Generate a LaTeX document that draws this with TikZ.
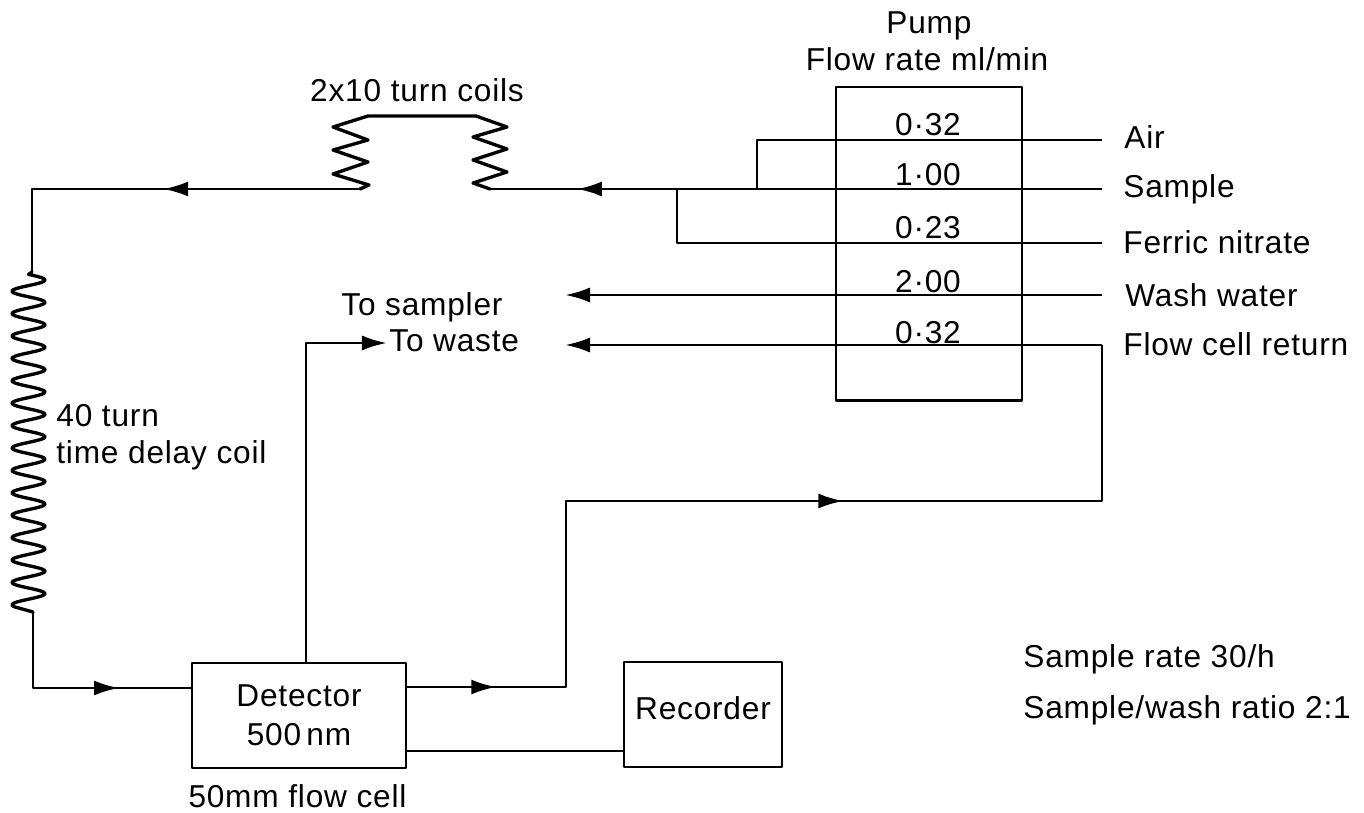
\documentclass[tikz,border=0pt]{standalone}
\usepackage{fontspec}
\setmainfont{Liberation Sans}[LetterSpace=2.5]
\usetikzlibrary{positioning, arrows.meta, decorations.markings}

\begin{document}
\begin{tikzpicture}[
        x=0.01cm, y=-0.01cm,
        line width=0.8pt,
        line join=round,
        boxnode/.style={rectangle, draw, line width=0.8pt, inner sep=0pt, font=\fontsize{9}{10.5}\selectfont},
        textlabel/.style={inner sep=0pt, anchor=base, font=\fontsize{9}{10.5}\selectfont},
        leftlabel/.style={textlabel, anchor=base west},
        flowtip/.style={postaction={decorate, decoration={markings, mark=at position #1 with {\arrow{Latex[length=2.5mm, width=1.5mm]}}}}},
        endtip/.style={-{Latex[length=2.5mm, width=1.5mm]}},
        coilline/.style={line width=0.95pt, line cap=round}
    ]
    \useasboundingbox (0,0) rectangle (1364,812);

    % pump and the other boxes
    \node[boxnode, minimum width=1.86cm, minimum height=3.13cm] (pump) at (929,243.5) {};
    \node[boxnode, minimum width=2.14cm, minimum height=1.05cm, align=center] (detector) at (299,715.5) {Detector\\[0.5pt]500\,nm};
    \node[boxnode, minimum width=1.58cm, minimum height=1.05cm, text depth=0.12cm] (recorder) at (703,714.5) {Recorder};

    % labels
    \node[textlabel] (pumplabel) at (929,33) {Pump};
    \node[textlabel] (ratelabel) at (927,70) {Flow rate ml/min};
    \node[textlabel] (coilslabel) at (417,101) {2x10 turn coils};
    \node[leftlabel] (delaylabel) at (55,426) {40 turn};
    \node[leftlabel] (delaylabelb) at (55,463) {time delay coil};
    \node[textlabel] (celllabel) at (297.5,807) {50mm flow cell};
    \node[leftlabel] (air) at (1123,148) {Air};
    \node[leftlabel] (sample) at (1122,197) {Sample};
    \node[leftlabel] (ferric) at (1122,253) {Ferric nitrate};
    \node[leftlabel] (wash) at (1124,306) {Wash water};
    \node[leftlabel] (return) at (1122,355) {Flow cell return};
    \node[leftlabel] (sampler) at (340,315) {To sampler};
    \node[leftlabel] (waste) at (388,351) {To waste};
    \node[leftlabel] (rate) at (1022,667) {Sample rate 30/h};
    \node[leftlabel] (ratio) at (1022,718) {Sample/wash ratio 2:1};

    % pump rates, one on each tube
    \foreach \name/\y/\rate in {a/135/0·32, b/185/1·00, c/238/0·23, d/292/2·00, e/343/0·32} {
        \node[textlabel] (rate\name) at (928,\y) {\rate};
    }

    % tube ends and corners
    \coordinate (airend) at (1102,140);
    \coordinate (airdrop) at (757,140);
    \coordinate (airjoin) at (757,189);
    \coordinate (sampleend) at (1102,189);
    \coordinate (coilin) at (490,189);
    \coordinate (coilout) at (360,189);
    \coordinate (ferricend) at (1102,243);
    \coordinate (ferricdrop) at (677,243);
    \coordinate (ferricjoin) at (677,189);
    \coordinate (washend) at (1102,295);
    \coordinate (washout) at (565,295);
    \coordinate (returnout) at (565,345);
    \coordinate (returndrop) at (1102,345);
    \coordinate (returnlow) at (1102,501);
    \coordinate (returnmid) at (566,501);
    \coordinate (returnfoot) at (566,687);
    \coordinate (delaytop) at (32,189);
    \coordinate (delayin) at (32,272);
    \coordinate (delayout) at (33,612);
    \coordinate (delayfoot) at (33,688);
    \coordinate (wasteup) at (306,343);
    \coordinate (wasteend) at (387,343);
    \coordinate (recline) at (406,751);

    % tubes
    \draw (airend) -- (airdrop) -- (airjoin);
    \draw[flowtip=0.858] (sampleend) -- (coilin);
    \draw (ferricend) -- (ferricdrop) -- (ferricjoin);
    \draw[endtip] (washend) -- (washout);
    \draw[endtip] (returndrop) -- (returnout);
    \draw[flowtip=0.0857, flowtip=0.600] (detector.east |- returnfoot) -- (returnfoot) -- (returnmid) -- (returnlow) -- (returndrop);
    \draw[flowtip=0.479] (coilout) -- (delaytop) -- (delayin);
    \draw[flowtip=0.694] (delayout) -- (delayfoot) -- (detector.west |- delayfoot);
    \draw[endtip] (detector.north -| wasteup) -- (wasteup) -- (wasteend);
    \draw (detector.east |- recline) -- (recorder.west |- recline);

    % the long coil
    \draw[coilline] (delayin) -- plot[domain=0:14.85, samples=320] ({28.5+16.5*sin(360*\x)},{274.4+22.4*\x}) -- (delayout);

    % the two short coils and the bridge between them
    \draw[coilline] (coilin) -- (473,183) -- (507,172) -- (473,160) -- (507,149) -- (473,137) -- (507,127) -- (476,116)
        -- (368,116) -- (333,127) -- (368,140) -- (333,150) -- (368,162) -- (333,174) -- (369,185) -- (coilout);
\end{tikzpicture}
\end{document}
